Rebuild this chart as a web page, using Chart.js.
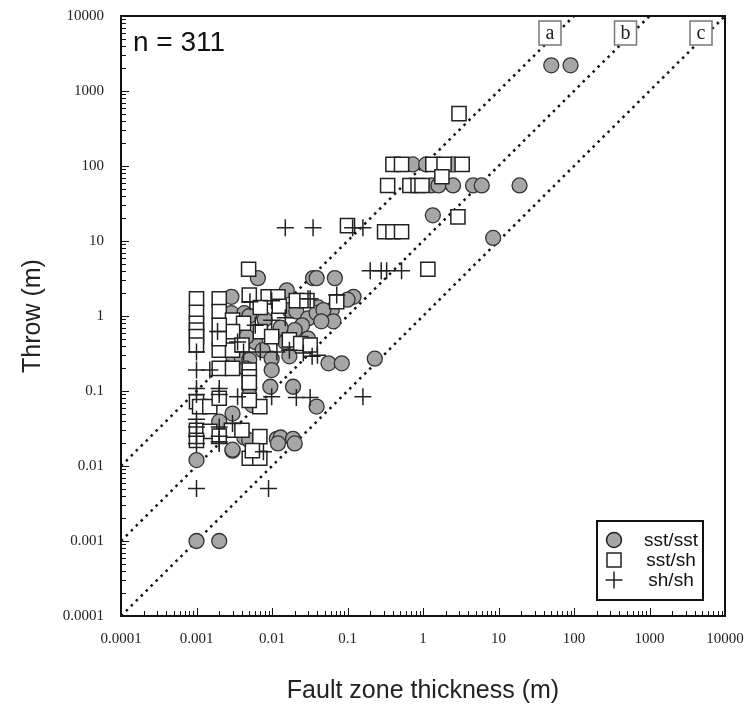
<!DOCTYPE html>
<html>
<head>
<meta charset="utf-8">
<title>Throw vs fault zone thickness</title>
<script src="https://cdn.jsdelivr.net/npm/chart.js@4"></script>
<style>
    body { margin: 0; background: #fff; }
    #chart { display: block; }
</style>
</head>
<body>
<canvas id="chart" width="747" height="712"></canvas>
<script>
// decade tick labels
const xTickValues = [0.0001, 0.001, 0.01, 0.1, 1, 10, 100, 1000, 10000];
const yTickValues = [0.0001, 0.001, 0.01, 0.1, 1, 10, 100, 1000, 10000];

// sandstone / sandstone  [thickness, throw]
const sstSst = [
    [50, 2200], [90, 2200],
    [0.73, 105], [1.1, 105], [2.5, 105],
    [1.3, 55], [1.6, 55], [2.5, 55], [4.6, 55], [6, 55], [19, 55],
    [1.35, 22], [8.5, 11],
    [0.0065, 3.2], [0.035, 3.2], [0.039, 3.2], [0.068, 3.2], [0.0157, 2.2],
    [0.12, 1.8], [0.1, 1.65], [0.0029, 1.8], [0.041, 1.3], [0.062, 1.2],
    [0.0029, 1.09], [0.0043, 1.09], [0.005, 1.0], [0.017, 1.2], [0.021, 1.15],
    [0.03, 0.93], [0.039, 1.1], [0.048, 1.2], [0.065, 0.85], [0.045, 0.85],
    [0.025, 0.75], [0.02, 0.65], [0.013, 0.7], [0.008, 0.9], [0.006, 0.45],
    [0.015, 0.45], [0.03, 0.5], [0.004, 0.4], [0.0075, 0.35],
    [0.0046, 0.53], [0.003, 0.3], [0.004, 0.27], [0.005, 0.26], [0.0099, 0.27],
    [0.017, 0.29], [0.056, 0.234], [0.084, 0.234], [0.23, 0.27], [0.0045, 0.2],
    [0.0099, 0.19], [0.005, 0.11], [0.0095, 0.114], [0.019, 0.114], [0.003, 0.05],
    [0.005, 0.088], [0.0055, 0.065], [0.039, 0.062],
    [0.002, 0.039], [0.003, 0.016], [0.0043, 0.024], [0.005, 0.022], [0.0116, 0.023],
    [0.013, 0.024], [0.019, 0.023], [0.012, 0.02], [0.02, 0.02], [0.003, 0.0165],
    [0.001, 0.012],
    [0.001, 0.001], [0.002, 0.001]
];

// sandstone / shale
const sstSh = [
    [3, 500],
    [0.4, 105], [0.52, 105], [1.35, 105], [1.9, 105], [3.3, 105],
    [0.34, 55], [0.67, 55], [0.86, 55], [0.97, 55], [1.78, 72],
    [2.9, 21], [1.16, 4.2], [0.1, 16], [0.31, 13.3], [0.4, 13.3], [0.52, 13.3],
    [0.0049, 4.2],
    [0.005, 1.9], [0.0089, 1.8], [0.012, 1.8], [0.021, 1.6], [0.029, 1.6], [0.072, 1.55],
    [0.001, 1.7], [0.002, 1.7], [0.001, 1.12], [0.002, 1.15], [0.001, 0.8],
    [0.003, 0.88], [0.0042, 0.8], [0.0125, 1.35], [0.007, 1.3],
    [0.001, 0.65], [0.001, 0.53], [0.001, 0.41], [0.002, 0.35], [0.003, 0.62],
    [0.003, 0.35], [0.004, 0.41], [0.007, 0.62], [0.0099, 0.53], [0.017, 0.48],
    [0.024, 0.43], [0.032, 0.41], [0.002, 0.75], [0.002, 0.5],
    [0.002, 0.2], [0.003, 0.2], [0.005, 0.19], [0.005, 0.155], [0.005, 0.13],
    [0.001, 0.072], [0.0011, 0.062], [0.0015, 0.062], [0.0069, 0.062], [0.002, 0.08], [0.005, 0.075],
    [0.001, 0.03], [0.0015, 0.029], [0.0029, 0.03], [0.004, 0.03], [0.0069, 0.0246],
    [0.005, 0.0127], [0.0069, 0.0127], [0.0055, 0.016], [0.001, 0.022], [0.002, 0.025]
];

// shale / shale
const shSh = [
    [0.015, 15], [0.035, 15], [0.117, 15], [0.16, 15],
    [0.2, 4], [0.28, 4], [0.33, 4], [0.52, 4],
    [0.032, 1.7], [0.072, 1.9], [0.0051, 1.55], [0.0099, 1.6], [0.03, 1.7],
    [0.0099, 0.88], [0.0019, 0.62], [0.001, 0.33], [0.0042, 0.33], [0.007, 0.33],
    [0.0116, 0.33], [0.017, 0.35], [0.026, 0.32], [0.034, 0.29], [0.04, 0.3],
    [0.006, 0.75], [0.0035, 0.45], [0.015, 0.95],
    [0.001, 0.19], [0.0015, 0.19], [0.001, 0.108], [0.002, 0.108], [0.001, 0.09],
    [0.002, 0.09], [0.0035, 0.084], [0.0099, 0.084], [0.021, 0.082], [0.032, 0.082], [0.16, 0.084],
    [0.001, 0.042], [0.001, 0.033], [0.001, 0.025], [0.001, 0.02], [0.002, 0.033],
    [0.002, 0.025], [0.002, 0.021], [0.003, 0.037], [0.0077, 0.0155], [0.002, 0.02],
    [0.001, 0.005], [0.009, 0.005]
];

// reference lines: throw = 100, 10 and 1 x thickness
const lineA = [[0.0001, 0.01], [100, 10000]];
const lineB = [[0.0001, 0.001], [1000, 10000]];
const lineC = [[0.0001, 0.0001], [10000, 10000]];

const toXY = arr => arr.map(p => ({ x: p[0], y: p[1] }));

const dotted = (label, pts) => ({
    type: 'line',
    label: label,
    data: toXY(pts),
    borderColor: '#111',
    borderWidth: 2.5,
    borderDash: [2.5, 4.5],
    pointRadius: 0,
    fill: false,
    order: 5
});

function drawMarker(ctx, style, x, y) {
    ctx.save();
    ctx.lineWidth = 1.5;
    ctx.strokeStyle = '#222';
    if (style === 'circle') {
        ctx.fillStyle = '#a6a6a6';
        ctx.beginPath();
        ctx.arc(x, y, 7.5, 0, Math.PI * 2);
        ctx.fill();
        ctx.stroke();
    } else if (style === 'rect') {
        ctx.fillStyle = '#fff';
        ctx.fillRect(x - 7, y - 7, 14, 14);
        ctx.strokeRect(x - 7, y - 7, 14, 14);
    } else {
        ctx.beginPath();
        ctx.moveTo(x - 8.5, y); ctx.lineTo(x + 8.5, y);
        ctx.moveTo(x, y - 8.5); ctx.lineTo(x, y + 8.5);
        ctx.stroke();
    }
    ctx.restore();
}

// frame, inward log ticks, line tags, n label and boxed legend
const decorations = {
    id: 'decorations',
    afterDraw(chart) {
        const { ctx, chartArea: a, scales: { x, y } } = chart;
        ctx.save();
        ctx.strokeStyle = '#111';
        ctx.lineWidth = 1;
        ctx.beginPath();
        for (let e = -4; e <= 4; e++) {
            for (let m = 1; m < 10; m++) {
                if (e === 4 && m > 1) break;
                const v = m * Math.pow(10, e);
                const len = m === 1 ? 8 : 5;
                const px = Math.round(x.getPixelForValue(v)) + 0.5;
                ctx.moveTo(px, a.bottom);
                ctx.lineTo(px, a.bottom - len);
                const py = Math.round(y.getPixelForValue(v)) + 0.5;
                ctx.moveTo(a.left, py);
                ctx.lineTo(a.left + len, py);
            }
        }
        ctx.stroke();

        ctx.lineWidth = 2;
        ctx.strokeStyle = '#111';
        ctx.strokeRect(a.left, a.top, a.right - a.left, a.bottom - a.top);

        // a / b / c tags next to the top end of each line
        chart.data.datasets.forEach(ds => {
            if (ds.type !== 'line') return;
            const last = ds.data[ds.data.length - 1];
            const cx = x.getPixelForValue(last.x) - 24;
            const cy = a.top + 17;
            ctx.fillStyle = '#fff';
            ctx.fillRect(cx - 11, cy - 12, 22, 24);
            ctx.strokeStyle = '#777';
            ctx.lineWidth = 1.5;
            ctx.strokeRect(cx - 11, cy - 12, 22, 24);
            ctx.fillStyle = '#222';
            ctx.font = '20px "Liberation Serif"';
            ctx.textAlign = 'center';
            ctx.textBaseline = 'middle';
            ctx.fillText(ds.label, cx, cy + 1);
        });

        ctx.fillStyle = '#111';
        ctx.font = '28px "Liberation Sans"';
        ctx.textAlign = 'left';
        ctx.textBaseline = 'middle';
        ctx.fillText('n = 311', a.left + 12, a.top + 27);

        // legend
        const lw = 106, lh = 79;
        const lx = a.right - 22 - lw, ly = a.bottom - 16 - lh;
        ctx.fillStyle = '#fff';
        ctx.fillRect(lx, ly, lw, lh);
        ctx.lineWidth = 2;
        ctx.strokeStyle = '#111';
        ctx.strokeRect(lx, ly, lw, lh);
        const styles = ['circle', 'rect', 'cross'];
        ctx.font = '19px "Liberation Sans"';
        ctx.textAlign = 'center';
        chart.data.datasets.slice(0, 3).forEach((ds, i) => {
            const ry = ly + 19 + i * 20;
            drawMarker(ctx, styles[i], lx + 17, ry);
            ctx.fillStyle = '#111';
            ctx.fillText(ds.label, lx + 74, ry + 1);
        });
        ctx.restore();
    }
};

const ctx = document.getElementById('chart').getContext('2d');
new Chart(ctx, {
    type: 'scatter',
    data: {
        datasets: [
            {
                label: 'sst/sst',
                data: toXY(sstSst),
                pointStyle: 'circle',
                pointRadius: 7.5,
                backgroundColor: '#a6a6a6',
                borderColor: '#333',
                borderWidth: 1.3,
                order: 3
            },
            {
                label: 'sst/sh',
                data: toXY(sstSh),
                pointStyle: 'rect',
                pointRadius: 10,
                backgroundColor: '#fff',
                borderColor: '#222',
                borderWidth: 1.5,
                order: 2
            },
            {
                label: 'sh/sh',
                data: toXY(shSh),
                pointStyle: 'cross',
                pointRadius: 8.5,
                borderColor: '#222',
                borderWidth: 1.5,
                order: 1
            },
            dotted('a', lineA),
            dotted('b', lineB),
            dotted('c', lineC)
        ]
    },
    options: {
        responsive: false,
        animation: false,
        devicePixelRatio: 1,
        layout: { padding: { left: 18, right: 22, top: 16, bottom: 6 } },
        plugins: {
            legend: { display: false },
            tooltip: { enabled: false }
        },
        scales: {
            x: {
                type: 'logarithmic',
                position: 'bottom',
                min: 0.0001,
                max: 10000,
                grid: { display: false },
                border: { display: false },
                afterBuildTicks: s => { s.ticks = xTickValues.map(v => ({ value: v })); },
                afterFit: s => { s.height = 90; s.paddingLeft = 0; s.paddingRight = 0; },
                ticks: {
                    autoSkip: false,
                    maxRotation: 0,
                    padding: 6,
                    color: '#222',
                    font: { family: 'Liberation Serif', size: 15 },
                    callback: v => String(v)
                },
                title: {
                    display: true,
                    text: 'Fault zone thickness (m)',
                    color: '#222',
                    padding: 0,
                    font: { family: 'Liberation Sans', size: 25 }
                }
            },
            y: {
                type: 'logarithmic',
                min: 0.0001,
                max: 10000,
                grid: { display: false },
                border: { display: false },
                afterBuildTicks: s => { s.ticks = yTickValues.map(v => ({ value: v })); },
                afterFit: s => { s.width = 103; s.paddingTop = 0; s.paddingBottom = 0; },
                ticks: {
                    autoSkip: false,
                    padding: 9,
                    color: '#222',
                    font: { family: 'Liberation Serif', size: 15 },
                    callback: v => String(v)
                },
                title: {
                    display: true,
                    text: 'Throw (m)',
                    color: '#222',
                    padding: 0,
                    font: { family: 'Liberation Sans', size: 25 }
                }
            }
        }
    },
    plugins: [decorations]
});
</script>
</body>
</html>
